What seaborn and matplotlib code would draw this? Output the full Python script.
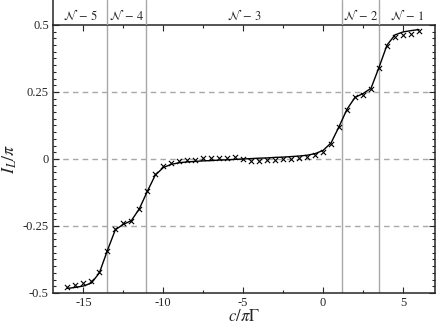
import matplotlib.pyplot as plt
import matplotlib.ticker as mticker
import numpy as np
import pandas as pd
import seaborn as sns

sns.set_style('ticks')
plt.rcParams['font.family'] = ['Liberation Serif', 'DejaVu Serif']
plt.rcParams['mathtext.fontset'] = 'stix'
plt.rcParams['axes.unicode_minus'] = False

# energies (c / pi Gamma)
eps = [-16, -15.5, -15, -14.5, -14, -13.5, -13, -12.5, -12, -11.5, -11, -10.5,
       -10, -9.5, -9, -8.5, -8, -7.5, -7, -6.5, -6, -5.5, -5, -4.5, -4, -3.5,
       -3, -2.5, -2, -1.5, -1, -0.5, 0, 0.5, 1, 1.5, 2, 2.5, 3, 3.5, 4, 4.5,
       5, 5.5, 6]

# crosses (numerical)
current_pts = [-0.477, -0.470, -0.463, -0.454, -0.423, -0.342, -0.262, -0.240,
               -0.231, -0.186, -0.121, -0.056, -0.026, -0.015, -0.009, -0.005,
               -0.002, 0.002, 0.004, 0.005, 0.005, 0.007, -0.001, -0.007,
               -0.006, -0.005, -0.004, -0.001, 0.001, 0.004, 0.007, 0.014,
               0.026, 0.055, 0.118, 0.182, 0.230, 0.238, 0.261, 0.341, 0.423,
               0.455, 0.462, 0.468, 0.476]

# solid curve
current_line = [-0.483, -0.479, -0.474, -0.463, -0.425, -0.342, -0.264, -0.244,
                -0.230, -0.186, -0.121, -0.060, -0.032, -0.020, -0.014, -0.011,
                -0.009, -0.007, -0.006, -0.004, -0.003, -0.0015, 0.0, 0.0015,
                0.003, 0.004, 0.006, 0.007, 0.009, 0.011, 0.014, 0.020, 0.032,
                0.060, 0.121, 0.186, 0.230, 0.244, 0.264, 0.342, 0.425, 0.463,
                0.474, 0.479, 0.483]

boundaries = [-13.5, -11.1, 1.2, 3.5]
region_labels = [r'$\mathcal{N}\,-\,5$', r'$\mathcal{N}\,-\,4$',
                 r'$\mathcal{N}\,-\,3$', r'$\mathcal{N}\,-\,2$',
                 r'$\mathcal{N}\,-\,1$']
xmin, xmax = -16.9, 7.0

df = pd.DataFrame({'eps': eps, 'pts': current_pts, 'line': current_line})

fig = plt.figure(figsize=(4.36, 3.27), dpi=100)
ax = fig.add_axes([0.1216, 0.104, 0.876, 0.8196])
ax_top = fig.add_axes([0.1216, 0.9235, 0.876, 0.0765])

grey = '#a8a8a8'
for yv in [-0.25, 0, 0.25]:
    ax.axhline(yv, color=grey, ls=(0, (4, 3)), lw=1, zorder=0)
for b in boundaries:
    ax.axvline(b, color=grey, lw=1, zorder=0)
    ax_top.axvline(b, color=grey, lw=1)

sns.lineplot(data=df, x='eps', y='line', color='black', lw=1, ax=ax)
sns.scatterplot(data=df, x='eps', y='pts', marker='x', color='black',
                s=14, linewidth=0.8, ax=ax, zorder=3)

ax.set_xlim(xmin, xmax)
ax.set_ylim(-0.5, 0.5)
ax.xaxis.set_major_locator(mticker.MultipleLocator(5))
ax.xaxis.set_minor_locator(mticker.MultipleLocator(2.5))
ax.set_yticks([-0.5, -0.25, 0, 0.25, 0.5])
ax.set_yticklabels(['-0.5', '-0.25', '0', '0.25', '0.5'])
ax.yaxis.set_minor_locator(mticker.MultipleLocator(0.025))
ax.xaxis.set_major_formatter(mticker.FuncFormatter(lambda v, p: f'{v:g}'))
ax.tick_params(which='both', direction='in', top=True, right=True,
               labelsize=9, pad=3, width=0.8)
ax.tick_params(which='major', length=4.5)
ax.tick_params(which='minor', length=2.5)
for s in ax.spines.values():
    s.set_linewidth(1.1)

ax.set_xlabel(r'$c/\pi\Gamma$', fontsize=12, labelpad=0)
ax.set_ylabel(r'$I_L/\pi$', fontsize=13, labelpad=3)

# top strip with region labels
ax_top.set_xlim(xmin, xmax)
ax_top.set_ylim(0, 1)
ax_top.set_xticks([])
ax_top.set_yticks([])
for side in ['top', 'right', 'bottom']:
    ax_top.spines[side].set_visible(False)
ax_top.spines['left'].set_linewidth(1.1)
ax_top.patch.set_alpha(0)
edges = [xmin] + boundaries + [xmax]
for i, lab in enumerate(region_labels):
    ax_top.text((edges[i] + edges[i + 1]) / 2, 0.36, lab, ha='center',
                va='center', fontsize=9)

fig.savefig('out.png', dpi=100)
